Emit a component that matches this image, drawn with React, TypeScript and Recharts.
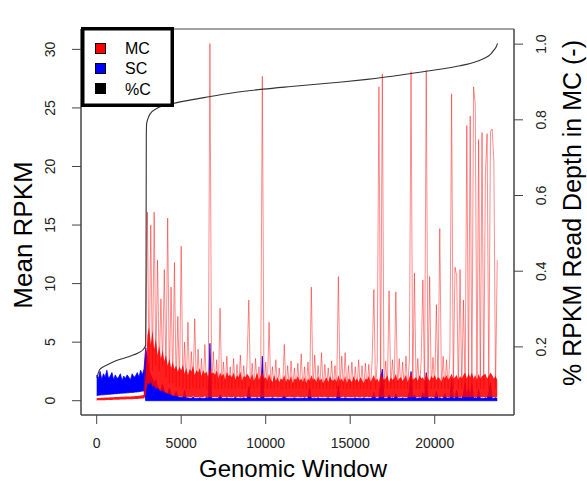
import { ComposedChart, Area, Line, XAxis, YAxis, ReferenceArea, Legend } from 'recharts';

// windows are sampled every 100 bins (0 .. 23700)
const STEP = 100;

// SC (blue): floor of the band in the low-coverage block, then the band sits on zero
const SC_FLOOR = [
  0.45, 0.47, 0.48, 0.5, 0.5, 0.52, 0.53, 0.55, 0.55, 0.57,
  0.58, 0.6, 0.6, 0.62, 0.63, 0.64, 0.65, 0.66, 0.67, 0.68,
  0.7, 0.71, 0.72, 0.74, 0.75, 0.77, 0.79, 0.82, 0.85,
];
const SC_TOP = [
  2.2, 1.9, 2.5, 1.8, 2.3, 2.0, 2.6, 1.9, 2.1, 2.4,
  1.8, 2.2, 1.9, 2.0, 2.3, 1.7, 2.1, 1.9, 2.2, 2.0,
  1.8, 2.3, 2.0, 2.1, 2.4, 2.0, 2.6, 2.2, 2.7,
  4.5, 3.6, 2.6, 2.2, 1.9, 1.5, 1.8, 1.2, 1.0, 0.9, 1.4,
  0.8, 0.7, 0.6, 1.1, 0.5, 0.45, 0.4, 0.8, 0.35, 0.3,
  0.3, 0.25, 0.9, 0.22, 0.25, 0.2, 0.22, 0.3, 0.2, 0.22,
  0.2, 0.25, 0.2, 0.22, 0.2, 0.3, 0.2, 4.9, 0.22, 0.2,
  0.2, 0.22, 0.2, 0.5, 0.2, 0.22, 0.2, 0.25, 0.2, 0.2,
  0.22, 0.2, 0.3, 0.2, 0.2, 0.22, 0.2, 0.25, 0.2, 0.2,
  1.2, 0.2, 0.22, 0.2, 0.2, 0.25, 0.2, 0.22, 3.8, 0.2,
  0.2, 0.22, 0.2, 0.2, 0.25, 0.2, 0.2, 0.22, 0.2, 0.2,
  0.25, 0.4, 0.2, 0.2, 0.22, 0.2, 0.2, 0.25, 0.2, 0.2,
  0.22, 0.2, 0.2, 0.25, 0.2, 0.2, 1.1, 0.2, 0.22, 0.2,
  0.2, 0.25, 0.2, 0.2, 0.22, 0.2, 0.2, 0.25, 0.2, 0.2,
  0.22, 0.2, 0.2, 1.3, 0.2, 0.22, 0.2, 0.25, 0.2, 0.2,
  0.22, 0.2, 0.2, 0.25, 0.2, 0.2, 0.22, 0.2, 0.25, 0.2,
  0.2, 0.22, 0.2, 0.25, 0.7, 0.2, 0.22, 0.2, 1.8, 2.7,
  0.2, 0.22, 0.2, 0.5, 0.2, 0.25, 0.2, 0.6, 0.2, 0.22,
  0.2, 0.25, 0.2, 0.22, 0.2, 0.8, 2.5, 0.2, 0.5, 0.22,
  0.2, 0.25, 0.2, 0.7, 0.2, 2.4, 0.22, 0.2, 0.25, 0.2,
  0.22, 0.8, 0.2, 0.25, 0.2, 0.22, 0.6, 0.2, 0.25, 0.2,
  1.9, 0.2, 0.22, 0.9, 0.2, 0.25, 0.2, 0.5, 1.6, 0.2,
  1.2, 0.22, 1.4, 0.2, 0.25, 0.2, 1.0, 0.2, 0.22, 0.2,
  0.25, 0.2, 0.7, 1.6, 0.22, 0.2, 0.25, 0.2,
];

// MC (red): dense core of the trace (low / high edge)
const MC_CORE_LO = [
  0.02, 0.03, 0.03, 0.04, 0.05, 0.05, 0.06, 0.06, 0.07, 0.07,
  0.08, 0.08, 0.09, 0.09, 0.1, 0.1, 0.11, 0.11, 0.12, 0.12,
  0.13, 0.13, 0.14, 0.15, 0.15, 0.16, 0.17, 0.18, 0.19,
  0.5, 1.5, 1.4, 1.6, 1.2, 1.3, 1.0, 1.1, 0.9, 0.8, 0.9,
  0.7, 0.65, 0.6, 0.6, 0.5, 0.45, 0.42, 0.4, 0.38, 0.35,
  0.34, 0.32, 0.35, 0.3, 0.33, 0.3, 0.32, 0.35, 0.3, 0.31,
  0.3, 0.33, 0.28, 0.32, 0.35, 0.3, 0.29, 0.34, 0.31, 0.3,
  0.32, 0.29, 0.33, 0.3, 0.28, 0.34, 0.31, 0.3, 0.33, 0.29,
  0.3, 0.34, 0.29, 0.31, 0.33, 0.28, 0.32, 0.3, 0.35, 0.3,
  0.31, 0.29, 0.33, 0.3, 0.32, 0.28, 0.34, 0.3, 0.31, 0.33,
  0.29, 0.32, 0.3, 0.34, 0.28, 0.31, 0.33, 0.3, 0.29, 0.32,
  0.3, 0.33, 0.28, 0.31, 0.34, 0.3, 0.29, 0.32, 0.3, 0.33,
  0.31, 0.28, 0.32, 0.3, 0.34, 0.29, 0.31, 0.33, 0.3, 0.28,
  0.32, 0.3, 0.33, 0.29, 0.31, 0.34, 0.28, 0.3, 0.32, 0.31,
  0.29, 0.33, 0.3, 0.32, 0.28, 0.31, 0.34, 0.3, 0.29, 0.33,
  0.3, 0.32, 0.29, 0.31, 0.33, 0.28, 0.3, 0.34, 0.31, 0.3,
  0.33, 0.29, 0.31, 0.3, 0.32, 0.28, 0.34, 0.3, 0.31, 0.29,
  0.32, 0.3, 0.33, 0.28, 0.31, 0.3, 0.34, 0.29, 0.32, 0.3,
  0.31, 0.33, 0.29, 0.3, 0.32, 0.28, 0.31, 0.34, 0.3, 0.32,
  0.29, 0.31, 0.3, 0.33, 0.28, 0.32, 0.3, 0.31, 0.34, 0.29,
  0.3, 0.32, 0.31, 0.28, 0.33, 0.3, 0.29, 0.32, 0.31, 0.3,
  0.33, 0.29, 0.31, 0.3, 0.32, 0.28, 0.34, 0.3, 0.31, 0.32,
  0.3, 0.29, 0.33, 0.31, 0.28, 0.32, 0.3, 0.34, 0.29, 0.31,
  0.3, 0.32, 0.29, 0.33, 0.31, 0.3, 0.28, 0.32,
];
const MC_CORE_HI = [
  0.22, 0.24, 0.24, 0.25, 0.26, 0.27, 0.27, 0.28, 0.29, 0.29,
  0.3, 0.31, 0.31, 0.32, 0.33, 0.33, 0.34, 0.35, 0.35, 0.36,
  0.37, 0.38, 0.39, 0.4, 0.41, 0.42, 0.44, 0.46, 0.5,
  2.5, 5.6, 6.3, 4.8, 6.0, 4.4, 5.3, 3.9, 4.7, 3.6, 4.3,
  3.4, 3.9, 3.0, 3.6, 2.8, 3.3, 2.7, 3.0, 2.5, 2.9,
  2.6, 3.1, 2.3, 2.8, 2.2, 2.7, 2.5, 3.0, 2.2, 2.6,
  2.4, 2.8, 2.1, 2.6, 2.3, 2.5, 2.0, 2.8, 2.3, 2.4,
  2.2, 2.6, 1.9, 2.4, 2.1, 2.3, 1.8, 2.5, 2.1, 2.2,
  2.0, 2.4, 1.8, 2.2, 2.0, 2.5, 1.7, 2.1, 2.0, 2.3,
  2.1, 1.8, 2.3, 1.7, 2.0, 2.4, 1.8, 2.1, 2.4, 1.9,
  2.0, 1.7, 2.3, 1.8, 1.6, 2.2, 1.7, 2.0, 1.6, 1.9,
  1.8, 2.2, 1.6, 1.9, 1.7, 2.1, 1.5, 1.9, 1.8, 2.1,
  1.7, 1.9, 1.6, 2.0, 1.5, 1.9, 1.7, 2.2, 1.8, 1.9,
  1.6, 2.1, 1.7, 1.9, 1.5, 1.8, 2.0, 1.6, 2.1, 1.8,
  1.7, 1.9, 1.6, 2.2, 1.7, 1.9, 1.6, 2.1, 1.5, 1.9,
  1.8, 1.6, 2.1, 1.7, 1.9, 1.6, 2.0, 1.8, 1.5, 1.9,
  1.8, 2.1, 1.6, 1.9, 2.2, 1.7, 1.9, 1.6, 2.3, 2.0,
  1.8, 1.9, 2.2, 1.6, 2.0, 1.8, 1.9, 2.3, 1.7, 1.9,
  2.0, 1.7, 1.9, 2.2, 1.6, 2.0, 2.4, 1.8, 1.9, 2.0,
  1.7, 2.2, 1.9, 2.0, 1.7, 2.3, 1.9, 1.7, 2.1, 1.9,
  2.2, 1.8, 2.0, 1.9, 1.6, 2.1, 1.9, 2.2, 1.8, 2.0,
  2.3, 1.9, 2.0, 2.2, 1.8, 2.1, 1.9, 2.2, 2.4, 1.9,
  2.3, 2.0, 2.4, 1.9, 2.2, 1.8, 2.3, 1.9, 2.1, 2.2,
  2.3, 1.9, 2.1, 2.4, 2.2, 1.9, 2.1, 1.8,
];
// MC excursions above the core: faint red hairs and the tall peaks
const MC_PEAK = [
  0.1, 0.15, 0.12, 0.16, 0.14, 0.17, 0.15, 0.18, 0.17, 0.19,
  0.18, 0.2, 0.19, 0.21, 0.2, 0.22, 0.21, 0.23, 0.22, 0.24,
  0.23, 0.25, 0.25, 0.27, 0.27, 0.29, 0.3, 0.32, 0.35,
  5.0, 16.1, 2.0, 15.0, 2.5, 16.1, 3.0, 12.0, 2.5, 8.7, 3.0,
  11.2, 2.0, 15.6, 1.5, 9.7, 1.5, 11.8, 1.2, 7.2, 1.2,
  13.2, 1.0, 5.0, 1.0, 6.7, 1.0, 4.2, 1.1, 7.0, 1.0,
  4.4, 1.0, 3.6, 1.1, 4.8, 1.0, 1.0, 30.5, 1.0, 4.2,
  1.0, 3.5, 1.0, 7.9, 1.0, 3.3, 1.1, 3.8, 1.0, 2.9,
  1.0, 3.6, 1.0, 3.1, 1.1, 3.9, 1.0, 3.0, 1.0, 3.4,
  8.6, 1.0, 3.2, 1.0, 3.6, 1.1, 2.9, 1.0, 27.7, 1.0,
  3.3, 1.0, 6.7, 1.0, 2.9, 1.0, 3.5, 1.1, 2.8, 1.0,
  1.0, 4.8, 1.0, 3.0, 1.0, 3.4, 1.0, 2.8, 1.0, 3.2,
  1.0, 4.0, 1.0, 2.9, 1.0, 3.3, 1.0, 9.7, 1.0, 3.9,
  1.0, 3.0, 1.0, 4.1, 1.0, 3.1, 1.0, 2.8, 1.0, 3.4,
  1.0, 3.0, 1.0, 10.6, 1.0, 3.8, 1.0, 4.1, 1.0, 3.0,
  1.0, 3.3, 1.0, 2.9, 1.0, 3.5, 1.0, 3.0, 1.0, 3.2,
  1.0, 3.1, 1.0, 3.5, 9.5, 1.0, 3.2, 26.8, 1.0, 27.9,
  1.0, 3.4, 1.0, 9.4, 1.0, 3.5, 1.0, 9.3, 1.0, 3.6,
  1.0, 3.3, 1.0, 3.8, 1.0, 3.5, 28.1, 1.0, 10.9, 1.0,
  3.6, 1.0, 3.4, 10.3, 1.0, 28.2, 1.0, 10.6, 1.0, 3.7,
  1.0, 8.2, 1.0, 14.7, 1.0, 3.8, 1.0, 3.5, 1.0, 3.9,
  26.2, 1.0, 11.4, 10.7, 1.0, 11.2, 1.0, 8.6, 1.0, 23.5,
  1.0, 24.3, 1.0, 26.8, 25.3, 1.0, 22.3, 1.0, 22.9, 1.0,
  19.3, 22.8, 1.0, 23.0, 23.2, 20.5, 1.0, 12.0,
];

// %C (black, right axis), windows sorted by the share read in MC
const PCT_WINDOWS = [
  0, 200, 600, 1000, 1600, 2000, 2450, 2750, 2900, 2920, 2935, 2955, 3050, 3150,
  3550, 4530, 5500, 6660, 8000, 9850, 11500, 13000, 14500, 16000, 17500, 19000,
  20500, 21500, 22100, 22600, 23000, 23300, 23500, 23650, 23720,
];
const PCT_VALUES = [
  0.118, 0.141, 0.152, 0.161, 0.17, 0.176, 0.184, 0.193, 0.205, 0.4, 0.76, 0.79, 0.805, 0.815,
  0.83, 0.843, 0.852, 0.861, 0.871, 0.881, 0.888, 0.894, 0.9, 0.907, 0.915, 0.925,
  0.935, 0.943, 0.949, 0.956, 0.964, 0.973, 0.984, 0.994, 1.002,
];

const X_TICKS = [0, 5000, 10000, 15000, 20000];
const LEFT_TICKS = [0, 5, 10, 15, 20, 25, 30];
const RIGHT_TICKS = [0.2, 0.4, 0.6, 0.8, 1.0];
const X_DOMAIN = [-929, 24692];
const LEFT_DOMAIN = [-1.22, 31.74];
const RIGHT_DOMAIN = [0.02, 1.04];

const LEGEND_ITEMS = [
  { label: 'MC', color: '#ff0000' },
  { label: 'SC', color: '#0000ff' },
  { label: '%C', color: '#000000' },
];

const FONT = '"Liberation Sans", Arial, Helvetica, sans-serif';
const AXIS_COLOR = '#444';
const TEXT_COLOR = '#222';

const rows = SC_TOP.map((top, i) => ({
  window: i * STEP,
  sc: [SC_FLOOR[i] ?? 0, top],
  mcCore: [MC_CORE_LO[i], MC_CORE_HI[i]],
  mcPeak: MC_PEAK[i],
}));

const pctRows = PCT_WINDOWS.map((w, i) => ({ window: w, pct: PCT_VALUES[i] }));

const fmtRight = (v: number) => v.toFixed(1);

function LeftTick({ y, payload }: any) {
  return (
    <text x={55} y={y} transform={`rotate(-90 55 ${y})`} textAnchor="middle"
      fontSize={14} fontFamily={FONT} fill={TEXT_COLOR}>
      {payload.value}
    </text>
  );
}

function RightTick({ y, payload }: any) {
  return (
    <text x={546} y={y} transform={`rotate(-90 546 ${y})`} textAnchor="middle"
      fontSize={14} fontFamily={FONT} fill={TEXT_COLOR}>
      {fmtRight(payload.value)}
    </text>
  );
}

function BottomTick({ x, payload }: any) {
  return (
    <text x={x} y={448} textAnchor="middle" fontSize={14} fontFamily={FONT} fill={TEXT_COLOR}>
      {payload.value}
    </text>
  );
}

function LegendBox() {
  return (
    <svg width={93} height={80} style={{ display: 'block' }}>
      <rect x={1.75} y={1.75} width={89.5} height={76.5} fill="#fff" stroke="#000" strokeWidth={3.5} />
      {LEGEND_ITEMS.map((item, i) => (
        <g key={item.label}>
          <rect x={14.5} y={16.5 + i * 20} width={10} height={10} fill={item.color} stroke="#000" strokeWidth={1} />
          <text x={44} y={26.5 + i * 20.5} fontSize={16} fontFamily={FONT} fill="#000">
            {item.label}
          </text>
        </g>
      ))}
    </svg>
  );
}

export default function App() {
  return (
    <div style={{ position: 'absolute', left: 0, top: 0, width: 587, height: 481, background: '#fff' }}>
      <ComposedChart width={587} height={481} data={rows} margin={{ top: 29, right: 0, bottom: 0, left: 0 }}>
        <XAxis
          dataKey="window"
          type="number"
          domain={X_DOMAIN}
          ticks={X_TICKS}
          allowDataOverflow
          height={66}
          tickSize={9}
          stroke={AXIS_COLOR}
          tick={<BottomTick />}
          label={() => (
            <text x={293} y={477} textAnchor="middle" fontSize={24} fontFamily={FONT} fill="#000">
              Genomic Window
            </text>
          )}
        />
        <YAxis
          yAxisId="left"
          type="number"
          domain={LEFT_DOMAIN}
          ticks={LEFT_TICKS}
          allowDataOverflow
          width={81}
          tickSize={9}
          stroke={AXIS_COLOR}
          tick={<LeftTick />}
          label={() => (
            <text x={32} y={235} transform="rotate(-90 32 235)" textAnchor="middle"
              fontSize={26} fontFamily={FONT} fill="#000">
              Mean RPKM
            </text>
          )}
        />
        <YAxis
          yAxisId="right"
          orientation="right"
          type="number"
          domain={RIGHT_DOMAIN}
          ticks={RIGHT_TICKS}
          allowDataOverflow
          width={73}
          tickSize={9}
          stroke={AXIS_COLOR}
          tick={<RightTick />}
          label={() => (
            <text x={581} y={213} transform="rotate(-90 581 213)" textAnchor="middle"
              fontSize={25} fontFamily={FONT} fill="#000">
              % RPKM Read Depth in MC (-)
            </text>
          )}
        />
        <ReferenceArea
          yAxisId="left"
          x1={X_DOMAIN[0]}
          x2={X_DOMAIN[1]}
          y1={LEFT_DOMAIN[0]}
          y2={LEFT_DOMAIN[1]}
          fill="none"
          stroke={AXIS_COLOR}
          strokeWidth={1}
        />
        <Area
          yAxisId="left"
          dataKey="sc"
          name="SC"
          type="linear"
          fill="#0000ff"
          fillOpacity={1}
          stroke="#0000ff"
          strokeWidth={0.8}
          isAnimationActive={false}
        />
        <Line
          yAxisId="left"
          dataKey="mcPeak"
          name="MC peaks"
          type="linear"
          stroke="#ff0000"
          strokeOpacity={0.45}
          strokeWidth={1}
          dot={false}
          legendType="none"
          isAnimationActive={false}
        />
        <Area
          yAxisId="left"
          dataKey="mcCore"
          name="MC"
          type="linear"
          fill="#ff0000"
          fillOpacity={0.88}
          stroke="none"
          isAnimationActive={false}
        />
        <Line
          yAxisId="right"
          data={pctRows}
          dataKey="pct"
          name="%C"
          type="monotone"
          stroke="#333"
          strokeWidth={1.1}
          dot={false}
          isAnimationActive={false}
        />
        <Legend
          layout="vertical"
          align="center"
          verticalAlign="middle"
          content={() => <LegendBox />}
          wrapperStyle={{ left: 81, top: 27, width: 93, height: 80 }}
        />
      </ComposedChart>
    </div>
  );
}
